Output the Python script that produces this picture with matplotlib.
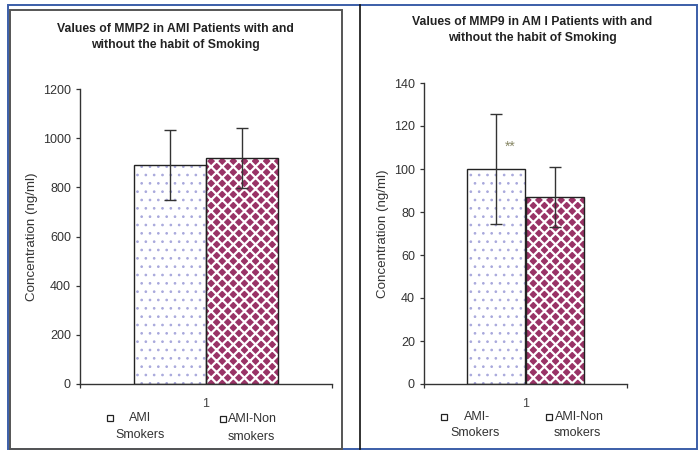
import matplotlib
matplotlib.use("Agg")
import matplotlib.pyplot as plt
from matplotlib.patches import Rectangle

plt.rcParams['font.family'] = ['Liberation Sans', 'DejaVu Sans']

W, H = 699, 450

# data
groups = ["AMI Smokers", "AMI-Non smokers"]
mmp2_mean = [890, 920]
mmp2_err = [143, 122]
mmp9_mean = [100, 87]
mmp9_err = [25.5, 14]
mmp2_legend = ["AMI\nSmokers", "AMI-Non\nsmokers"]
mmp9_legend = ["AMI-\nSmokers", "AMI-Non\nsmokers"]
mmp2_title = "Values of MMP2 in AMI Patients with and\nwithout the habit of Smoking"
mmp9_title = "Values of MMP9 in AM I Patients with and\nwithout the habit of Smoking"
mmp2_ticks = [0, 200, 400, 600, 800, 1000, 1200]
mmp9_ticks = [0, 20, 40, 60, 80, 100, 120, 140]
category = "1"

DOT = "#a8a8dc"
MAROON = "#993366"


def px_axes(fig, x0, y0, x1, y1):
    return fig.add_axes([x0 / W, 1 - y1 / H, (x1 - x0) / W, (y1 - y0) / H])


def fig_rect(fig, x0, y0, x1, y1, color, lw):
    r = Rectangle((x0 / W, 1 - y1 / H), (x1 - x0) / W, (y1 - y0) / H,
                  transform=fig.transFigure, fill=False, edgecolor=color, lw=lw)
    fig.add_artist(r)


def hatch_lw(bars, lw):
    for b in bars:
        if hasattr(b, "set_hatch_linewidth"):
            b.set_hatch_linewidth(lw)


def draw_panel(fig, box, means, errs, ticks, ymax, title, title_xy, ylabel_x):
    ax = px_axes(fig, *box)
    width = 0.286
    xs = [0.5 - width / 2, 0.5 + width / 2]
    # dotted bar
    b1 = ax.bar(xs[0], means[0], width, color="white", edgecolor=DOT, hatch="..", lw=0, zorder=2)
    hatch_lw(b1, 0.7)
    # diamond bar: maroon fill with white diagonal hatch
    b2 = ax.bar(xs[1], means[1], width, color=MAROON, edgecolor="white", hatch="xxx", lw=0,
                zorder=2)
    hatch_lw(b2, 1.6)
    ax.bar(xs, means, width, fill=False, edgecolor="#222222", lw=1.0, zorder=3)
    ax.errorbar(xs, means, yerr=errs, fmt="none", ecolor="#333333", elinewidth=1.0,
                capsize=4, capthick=1.0, zorder=4)
    ax.set_xlim(0, 1)
    ax.set_ylim(0, ymax)
    ax.set_yticks(ticks)
    ax.set_xticks([0, 1])
    ax.set_xticklabels([])
    ax.set_xticks([0.5], minor=True)
    ax.set_xticklabels([category], minor=True)
    ax.tick_params(axis="x", which="minor", length=0, pad=10, labelsize=9, labelcolor="#444444")
    ax.tick_params(axis="both", which="major", direction="out", length=3, width=0.9,
                   color="#333333", labelsize=9, labelcolor="#333333")
    for s in ["top", "right"]:
        ax.spines[s].set_visible(False)
    for s in ["left", "bottom"]:
        ax.spines[s].set_color("#333333")
        ax.spines[s].set_linewidth(1.0)
    ax.patch.set_alpha(0)
    fig.text(title_xy[0] / W, 1 - title_xy[1] / H, title, ha="center", va="center",
             fontsize=8.8, fontweight="bold", color="#222222", linespacing=1.5)
    fig.text(ylabel_x / W, 1 - (box[1] + box[3]) / 2 / H, "Concentration (ng/ml)",
             rotation=90, ha="center", va="center", fontsize=9.6, color="#333333")
    return ax, xs


def legend_entry(fig, sq_x, sq_y, label, text_x, ha, y1, y2):
    fig.add_artist(Rectangle(((sq_x - 3) / W, 1 - (sq_y + 3) / H), 6 / W, 6 / H,
                             transform=fig.transFigure, fill=False, edgecolor="#222222", lw=0.9))
    first, second = label.split("\n")
    fig.text(text_x[0] / W, 1 - y1 / H, first, ha=ha, va="center", fontsize=9, color="#333333")
    fig.text(text_x[1] / W, 1 - y2 / H, second, ha="center", va="center", fontsize=9,
             color="#333333")


fig = plt.figure(figsize=(W / 100, H / 100), dpi=100)

# frames
fig_rect(fig, 8, 5, 697, 449, "#3b5ea8", 1.4)
fig_rect(fig, 9.5, 10, 342, 449, "#555555", 1.4)
fig.add_artist(plt.Line2D([360 / W, 360 / W], [1 - 5 / H, 1 - 449 / H],
                          transform=fig.transFigure, color="#111111", lw=1.2))

ax1, xs1 = draw_panel(fig, (80, 89, 332, 384), mmp2_mean, mmp2_err, mmp2_ticks, 1200,
                      mmp2_title, (175, 37), 32)
ax2, xs2 = draw_panel(fig, (424, 83, 627, 384), mmp9_mean, mmp9_err, mmp9_ticks, 140,
                      mmp9_title, (532, 30), 383)

# significance mark
ax2.text(xs2[0] + 0.07, mmp9_mean[0] + 10.5, "**", ha="center", va="center",
         fontsize=10, color="#888866")

legend_entry(fig, 110, 418, mmp2_legend[0], (140, 140), "center", 418, 435)
legend_entry(fig, 223, 419, mmp2_legend[1], (228, 251), "left", 419, 437)
legend_entry(fig, 444, 417, mmp9_legend[0], (477, 475), "center", 417, 433)
legend_entry(fig, 549, 417, mmp9_legend[1], (555, 577), "left", 417, 433)

fig.savefig("out.png", dpi=100)
